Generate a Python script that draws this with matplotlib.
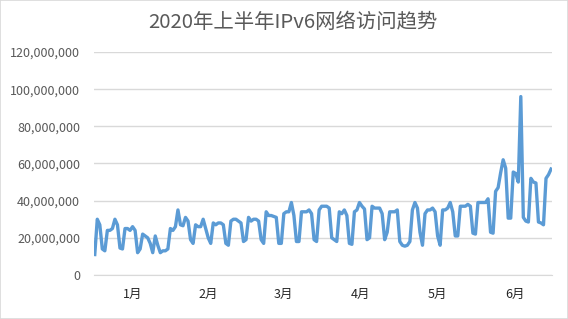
import numpy as np
import matplotlib
matplotlib.use("Agg")
import matplotlib.pyplot as plt
from matplotlib.ticker import FuncFormatter
from matplotlib.patches import Rectangle

plt.rcParams['font.family'] = ['Noto Sans CJK SC', 'DejaVu Sans']

# ─── Datos ────────────────────────────────────────────────────────────────────

TITLE = "2020年上半年IPv6网络访问趋势"
MONTH_LABELS = ["1月", "2月", "3月", "4月", "5月", "6月"]
MONTH_DAYS = [31, 29, 31, 30, 31, 30]

# visitas diarias (millones), 1 ene - 30 jun 2020
jan = [11, 30, 27, 14, 13, 24, 24, 25, 30, 27, 14.5, 14, 25, 25, 24, 26,
       24, 12, 14, 22, 21, 20, 17, 12, 21, 16, 12, 13, 13, 14, 25]
feb = [24, 26, 35, 27, 26.5, 31, 29, 19, 17, 27, 26, 26, 30, 25, 20, 17,
       28, 27, 28, 28, 27, 17, 16, 29, 30, 30, 29, 28, 18]
mar = [19, 31, 29, 30, 30, 29, 19, 17, 34, 32, 32, 31.5, 31, 17, 17, 33,
       34, 34, 39, 32, 18, 18, 34, 34, 34, 35, 33, 19, 18, 35, 37]
apr = [37, 37, 36, 20, 19, 18, 34, 33, 35, 32, 17, 16.5, 34, 35, 39, 37,
       35.5, 19, 20, 37, 36, 36, 36, 33, 19, 23, 34, 34, 34, 35]
may = [18, 16, 15.5, 16, 18, 35, 39, 36, 23, 16, 33, 35, 35, 36, 34, 21,
       16, 35, 35, 36, 39, 34, 21, 21, 37, 37, 37, 38, 37, 22.5, 22]
jun = [39, 39, 39, 39, 41, 23, 22.5, 45, 47, 55, 62, 57.5, 30.6, 30.6,
       55.4, 54.6, 50, 96, 31, 29, 28.5, 52, 50, 49.5, 28.5, 28, 27, 52,
       54, 57]

visits = np.array(jan + feb + mar + apr + may + jun) * 1e6
days = np.arange(len(visits))

# ─── Gráfico ──────────────────────────────────────────────────────────────────

fig = plt.figure(figsize=(5.68, 3.19), dpi=100)
ax = fig.add_axes([0.1655, 0.138, 0.806, 0.699])

ax.plot(days, visits, color="#5B9BD5", linewidth=2.4, solid_joinstyle="round")

ax.set_ylim(0, 120e6)
ax.set_yticks(np.arange(0, 120e6 + 1, 20e6))
ax.yaxis.set_major_formatter(FuncFormatter(lambda v, _: f"{int(v):,}"))
ax.set_xlim(-0.3, len(visits) - 0.7)

edges = np.concatenate([[0], np.cumsum(MONTH_DAYS)])
centers = (edges[:-1] + edges[1:] - 1) / 2
ax.set_xticks(centers)
ax.set_xticklabels(MONTH_LABELS, fontsize=9, color="#262626")

ax.grid(axis="y", color="#d9d9d9", linewidth=1)
ax.set_axisbelow(True)
for s in ["top", "right", "left"]:
    ax.spines[s].set_visible(False)
ax.spines["bottom"].set_color("#d9d9d9")
ax.tick_params(axis="both", length=0)
ax.tick_params(axis="y", labelsize=9, labelcolor="#595959", pad=10)
ax.tick_params(axis="x", pad=9)

fig.suptitle(TITLE, x=0.515, y=0.963, fontsize=14.7, color="#595959")

fig.patches.append(Rectangle((0, 0), 1, 1, transform=fig.transFigure,
                             fill=False, edgecolor="#d9d9d9", linewidth=1.2))

fig.savefig("out.png", dpi=100)
